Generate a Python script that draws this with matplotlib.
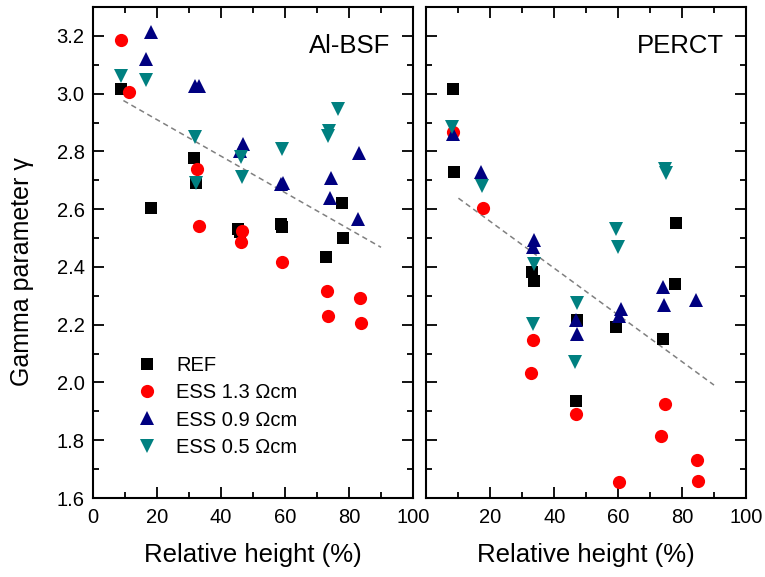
import matplotlib
matplotlib.use('Agg')
import matplotlib.pyplot as plt
from matplotlib.ticker import MultipleLocator

plt.rcParams['font.family'] = ['Liberation Sans', 'DejaVu Sans']

# Al-BSF cells
bsf_ref_x = [8.7, 18.0, 31.7, 32.3, 45.4, 45.8, 58.8, 59.0, 72.9, 77.8, 78.1]
bsf_ref_y = [3.016, 2.603, 2.778, 2.690, 2.533, 2.520, 2.548, 2.539, 2.435, 2.623, 2.500]
bsf_r13_x = [8.8, 11.2, 32.6, 33.1, 46.5, 46.2, 59.2, 73.1, 73.5, 83.5, 83.8]
bsf_r13_y = [3.186, 3.004, 2.738, 2.540, 2.523, 2.485, 2.416, 2.318, 2.230, 2.292, 2.206]
bsf_r09_x = [18.1, 16.5, 32.0, 33.0, 46.0, 47.0, 58.6, 59.5, 74.5, 74.2, 83.0, 82.8]
bsf_r09_y = [3.215, 3.120, 3.028, 3.028, 2.800, 2.824, 2.686, 2.692, 2.707, 2.640, 2.793, 2.566]
bsf_r05_x = [8.8, 16.5, 31.8, 32.3, 46.2, 46.7, 59.0, 76.5, 73.7, 73.4]
bsf_r05_y = [3.062, 3.048, 2.849, 2.689, 2.780, 2.713, 2.810, 2.947, 2.870, 2.855]
bsf_trend_x = [9.5, 90.0]
bsf_trend_y = [2.976, 2.468]

# PERCT cells
perc_ref_x = [8.4, 8.6, 33.1, 33.6, 47.2, 46.9, 59.2, 74.0, 77.7, 78.2]
perc_ref_y = [3.017, 2.727, 2.384, 2.350, 2.217, 1.936, 2.192, 2.152, 2.341, 2.552]
perc_r13_x = [8.2, 17.7, 33.2, 32.7, 46.9, 60.3, 74.8, 73.5, 84.6, 84.9]
perc_r13_y = [2.867, 2.603, 2.146, 2.033, 1.891, 1.654, 1.925, 1.813, 1.730, 1.658]
perc_r09_x = [8.4, 17.2, 33.6, 33.3, 46.8, 47.0, 60.8, 60.4, 74.0, 74.5, 84.4]
perc_r09_y = [2.861, 2.730, 2.494, 2.468, 2.215, 2.169, 2.255, 2.229, 2.330, 2.267, 2.284]
perc_r05_x = [8.1, 17.4, 33.5, 33.2, 47.1, 46.6, 59.4, 59.9, 74.6, 75.0]
perc_r05_y = [2.884, 2.680, 2.410, 2.203, 2.276, 2.071, 2.531, 2.468, 2.740, 2.725]
perc_trend_x = [10.0, 90.0]
perc_trend_y = [2.638, 1.991]

labels = ['REF', 'ESS 1.3 \u03a9cm', 'ESS 0.9 \u03a9cm', 'ESS 0.5 \u03a9cm']
colors = ['black', '#ff0000', '#000080', '#008080']
markers = ['s', 'o', '^', 'v']
sizes = [8, 9.5, 10.5, 10.5]

panels = [
    ('Al-BSF', [(bsf_ref_x, bsf_ref_y), (bsf_r13_x, bsf_r13_y),
                (bsf_r09_x, bsf_r09_y), (bsf_r05_x, bsf_r05_y)],
     (bsf_trend_x, bsf_trend_y)),
    ('PERCT', [(perc_ref_x, perc_ref_y), (perc_r13_x, perc_r13_y),
               (perc_r09_x, perc_r09_y), (perc_r05_x, perc_r05_y)],
     (perc_trend_x, perc_trend_y)),
]

fig = plt.figure(figsize=(7.65, 5.77), dpi=100)
ax_left = fig.add_axes([0.1216, 0.1369, 0.4183, 0.851])
ax_right = fig.add_axes([0.5575, 0.1369, 0.4176, 0.851])

for ax, (name, series, trend) in zip([ax_left, ax_right], panels):
    ax.plot(trend[0], trend[1], color='#808080', lw=1.1,
            dashes=(3.5, 2.5), zorder=1)
    for (xs, ys), lab, c, m, ms in zip(series, labels, colors, markers, sizes):
        ax.plot(xs, ys, ls='none', marker=m, ms=ms, color=c, mec=c,
                mew=0, label=lab, zorder=2)
    ax.set_xlim(0, 100)
    ax.set_ylim(1.6, 3.3)
    ax.xaxis.set_major_locator(MultipleLocator(20))
    ax.xaxis.set_minor_locator(MultipleLocator(10))
    ax.yaxis.set_major_locator(MultipleLocator(0.2))
    ax.yaxis.set_minor_locator(MultipleLocator(0.1))
    ax.tick_params(which='both', direction='in', top=True, right=True,
                   width=1.3, labelsize=14.5)
    ax.tick_params(which='major', length=8)
    ax.tick_params(which='minor', length=4.5)
    ax.tick_params(axis='x', pad=7)
    ax.tick_params(axis='y', pad=6)
    for sp in ax.spines.values():
        sp.set_linewidth(1.5)
    ax.set_xlabel('Relative height (%)', fontsize=18.5, labelpad=12)
    ax.text(0.93, 0.945, name, transform=ax.transAxes, ha='right',
            va='top', fontsize=18.5)

ax_left.set_yticks([1.6, 1.8, 2.0, 2.2, 2.4, 2.6, 2.8, 3.0, 3.2])
ax_left.set_yticklabels(['1.6', '1.8', '2.0', '2.2', '2.4', '2.6', '2.8',
                         '3.0', '3.2'])
ax_right.tick_params(axis='y', labelleft=False)
ax_right.set_xticks([0, 20, 40, 60, 80, 100])
ax_right.set_xticklabels(['', '20', '40', '60', '80', '100'])

fig.text(0.029, 0.53, 'Gamma parameter \u03b3', rotation=90, ha='center',
         va='center', fontsize=18)

ax_left.legend(loc='upper left', bbox_to_anchor=(0.14, 0.29), frameon=False,
               fontsize=14.5, handlelength=0.9, handletextpad=1.0,
               labelspacing=0.42, borderpad=0, borderaxespad=0)

plt.savefig('out.png', dpi=100)
